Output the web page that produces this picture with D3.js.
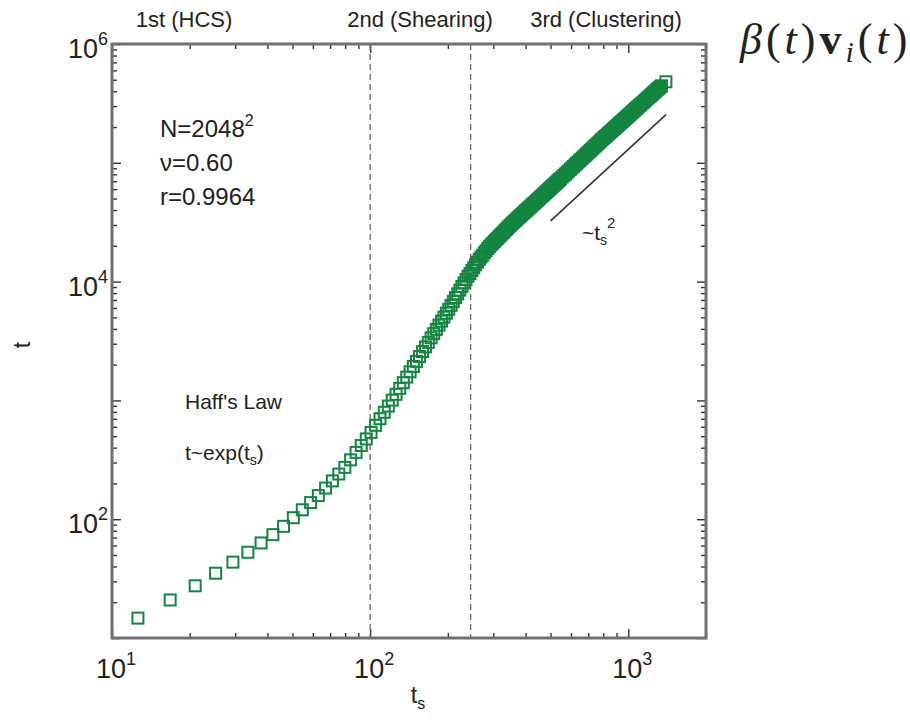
<!DOCTYPE html>
<html>
<head>
<meta charset="utf-8">
<script src="https://cdn.jsdelivr.net/npm/d3@7"></script>
<style>
  body { margin: 0; background: #fff; }
  svg { display: block; }
  text { font-family: "Liberation Sans", Arial, Helvetica, sans-serif; fill: #222; }
</style>
</head>
<body>
<svg id="chart" width="910" height="721"></svg>
<script>
// Scaled time t_s and real time t for the N=2048^2 run
const tS = [
  12.6, 16.8, 21.0, 25.2, 29.4, 33.6, 37.8, 42.0, 46.2, 50.4,
  54.6, 58.8, 63.0, 67.2, 71.4, 75.6, 79.8, 84.0, 88.2, 92.4,
  96.6, 100.8, 105.0, 109.2, 113.4, 117.6, 121.8, 126.0, 130.2, 134.4,
  138.6, 142.8, 147.0, 151.2, 155.4, 159.6, 163.8, 168.0, 172.2, 176.4,
  180.6, 184.8, 189.0, 193.2, 197.4, 201.6, 205.8, 210.0, 214.2, 218.4,
  222.6, 226.8, 231.0, 235.2, 239.4, 243.6, 247.8, 252.0, 256.2, 260.4,
  264.6, 268.8, 273.0, 277.2, 281.4, 285.6, 289.8, 294.0, 298.2, 302.4,
  306.6, 310.8, 315.0, 319.2, 323.4, 327.6, 331.8, 336.0, 340.2, 344.4,
  348.6, 352.8, 357.0, 361.2, 365.4, 369.6, 373.8, 378.0, 382.2, 386.4,
  390.6, 394.8, 399.0, 403.2, 407.4, 411.6, 415.8, 420.0, 424.2, 428.4,
  432.6, 436.8, 441.0, 445.2, 449.4, 453.6, 457.8, 462.0, 466.2, 470.4,
  474.6, 478.8, 483.0, 487.2, 491.4, 495.6, 499.8, 504.0, 508.2, 512.4,
  516.6, 520.8, 525.0, 529.2, 533.4, 537.6, 541.8, 546.0,
  554.4, 562.8, 571.2, 579.6, 588.0, 596.4, 604.8, 613.2, 621.6, 630.0,
  638.4, 646.8, 655.2, 663.6, 672.0, 680.4, 688.8, 697.2, 705.6, 714.0,
  722.4, 730.8, 739.2, 747.6, 756.0, 764.4, 772.8, 781.2, 789.6, 798.0,
  806.4, 814.8, 823.2, 831.6, 840.0, 848.4, 856.8, 865.2, 873.6, 882.0,
  890.4, 898.8, 907.2, 915.6, 924.0, 932.4, 940.8, 949.2, 957.6, 966.0,
  974.4, 982.8, 991.2, 999.6, 1008.0, 1016.4, 1024.8, 1033.2, 1041.6, 1050.0,
  1058.4, 1066.8, 1075.2, 1083.6, 1092.0,
  1104.6, 1117.2, 1129.8, 1142.4, 1155.0, 1167.6, 1180.2, 1192.8, 1205.4, 1218.0,
  1230.6, 1243.2, 1255.8, 1268.4, 1281.0, 1293.6, 1306.2, 1318.8, 1331.4, 1344.0,
  1398.6
];
const tReal = [
  14.7, 20.9, 27.5, 35.1, 43.5, 52.7, 63.1, 74.1, 87.1, 103,
  120, 138, 158, 183, 210, 240, 273, 316, 365, 417,
  474, 538, 617, 701, 794, 896, 1005, 1125, 1262, 1409,
  1570, 1742, 1930, 2130, 2340, 2575, 2820, 3080, 3360, 3650,
  3960, 4300, 4650, 5020, 5420, 5840, 6310, 6810, 7340, 7890,
  8480, 9100, 9750, 10400, 11100, 11700, 12400, 13100, 13900, 14600,
  15400, 16100, 16700, 17500, 18200, 19000, 19700, 20400, 21000, 21700,
  22400, 23000, 23800, 24400, 25200, 25900, 26700, 27400, 28200, 29000,
  29700, 30500, 31300, 32000, 32700, 33500, 34300, 35100, 35800, 36600,
  37400, 38300, 39100, 39900, 40700, 41600, 42400, 43300, 44200, 45100,
  45900, 46800, 47700, 48600, 49500, 50500, 51400, 52400, 53300, 54300,
  55300, 56300, 57300, 58300, 59300, 60300, 61300, 62400, 63400, 64500,
  65600, 66700, 67800, 68900, 70000, 71200, 72300, 73500,
  75900, 78200, 80600, 83000, 85500, 88100, 90600, 93300, 95900, 98600,
  101200, 104000, 106700, 109600, 112400, 115300, 118300, 121300, 124200, 127400,
  130300, 133400, 136800, 140000, 143200, 146600, 149600, 153100, 156700, 160000,
  163300, 166700, 169800, 173400, 177000, 180300, 183700, 187500, 191000, 194500,
  198200, 201800, 205600, 209400, 213300, 217300, 220800, 224900, 228600, 232800,
  236600, 240400, 244900, 248900, 252900, 257000, 261200, 265500, 269800, 274200,
  278600, 283100, 287100, 291700, 296500,
  303400, 309700, 317000, 323600, 330400, 337300, 345100, 352400, 359700, 366400,
  374100, 381900, 389900, 397200, 404600, 413000, 420700, 428500, 436500, 444600,
  480800
];

// Axis labels (powers of ten)
const xLabelValues = [10, 100, 1000];
const xLabelExps = ["1", "2", "3"];
const yLabelValues = [100, 1e4, 1e6];
const yLabelExps = ["2", "4", "6"];

// Regime boundaries and their names
const regimeBounds = [100, 245];
const regimeNames = ["1st (HCS)", "2nd (Shearing)", "3rd (Clustering)"];

// Guide line ~ t_s^2
const guideTs = [500, 1400];
const guideT = [32500, 254800];

const svg = d3.select("#chart");
const W = 910, H = 721;
svg.append("rect").attr("width", W).attr("height", H).attr("fill", "#fff");

const plot = { left: 112, right: 706, top: 44, bottom: 638 };
const x = d3.scaleLog().domain([10, 2000]).range([plot.left, plot.right]);
const y = d3.scaleLog().domain([10, 1e6]).range([plot.bottom, plot.top]);

// Minor / major tick positions
function logTicks(lo, hi) {
  const out = [];
  for (let d = lo; d < hi * 10; d *= 10)
    for (let k = 1; k < 10; k++) { const v = d * k; if (v >= lo && v <= hi) out.push(v); }
  return out;
}
const xMinor = logTicks(10, 2000).filter(v => !xLabelValues.includes(v));
const yMajor = [10, 100, 1000, 1e4, 1e5, 1e6];
const yMinor = logTicks(10, 1e6).filter(v => !yMajor.includes(v));

function styleTicks(g) {
  g.select(".domain").remove();
  g.selectAll(".tick line").attr("stroke", "#333").attr("stroke-width", 1.4);
  g.selectAll(".tick text").remove();
}
const axes = svg.append("g");
axes.append("g").attr("transform", `translate(0,${plot.bottom})`)
  .call(d3.axisBottom(x).tickValues(xMinor).tickSize(-5)).call(styleTicks);
axes.append("g").attr("transform", `translate(0,${plot.bottom})`)
  .call(d3.axisBottom(x).tickValues(xLabelValues).tickSize(-9)).call(styleTicks);
axes.append("g").attr("transform", `translate(0,${plot.top})`)
  .call(d3.axisTop(x).tickValues(xMinor).tickSize(-5)).call(styleTicks);
axes.append("g").attr("transform", `translate(0,${plot.top})`)
  .call(d3.axisTop(x).tickValues(xLabelValues).tickSize(-9)).call(styleTicks);
axes.append("g").attr("transform", `translate(${plot.left},0)`)
  .call(d3.axisLeft(y).tickValues(yMinor).tickSize(-5)).call(styleTicks);
axes.append("g").attr("transform", `translate(${plot.left},0)`)
  .call(d3.axisLeft(y).tickValues(yMajor).tickSize(-9)).call(styleTicks);
axes.append("g").attr("transform", `translate(${plot.right},0)`)
  .call(d3.axisRight(y).tickValues(yMinor).tickSize(-5)).call(styleTicks);
axes.append("g").attr("transform", `translate(${plot.right},0)`)
  .call(d3.axisRight(y).tickValues(yMajor).tickSize(-9)).call(styleTicks);

// Regime separators
svg.append("g").selectAll("line").data(regimeBounds).join("line")
  .attr("x1", d => x(d)).attr("x2", d => x(d))
  .attr("y1", plot.top).attr("y2", plot.bottom)
  .attr("stroke", "#666").attr("stroke-width", 1.3).attr("stroke-dasharray", "6,4");

// Data markers: open squares
const pts = d3.range(Math.min(tS.length, tReal.length)).map(i => ({ ts: tS[i], t: tReal[i] }));
const side = 11;
svg.append("g").selectAll("rect").data(pts).join("rect")
  .attr("x", d => x(d.ts) - side / 2).attr("y", d => y(d.t) - side / 2)
  .attr("width", side).attr("height", side)
  .attr("fill", "none").attr("stroke", "#138540").attr("stroke-width", 2);

// ~t_s^2 guide
svg.append("line")
  .attr("x1", x(guideTs[0])).attr("y1", y(guideT[0]))
  .attr("x2", x(guideTs[1])).attr("y2", y(guideT[1]))
  .attr("stroke", "#333").attr("stroke-width", 1.6);

// Frame
svg.append("rect").attr("x", plot.left).attr("y", plot.top)
  .attr("width", plot.right - plot.left).attr("height", plot.bottom - plot.top)
  .attr("fill", "none").attr("stroke", "#707070").attr("stroke-width", 3);

// Tick labels 10^n
const lab = svg.append("g").attr("font-size", 27);
xLabelValues.forEach((v, i) => {
  const t = lab.append("text").attr("x", x(v) + 4).attr("y", 678).attr("text-anchor", "middle");
  t.append("tspan").text("10");
  t.append("tspan").attr("dy", -13).attr("font-size", 18).text(xLabelExps[i]);
});
yLabelValues.forEach((v, i) => {
  const t = lab.append("text").attr("x", 108).attr("y", y(v) + 14).attr("text-anchor", "end");
  t.append("tspan").text("10");
  t.append("tspan").attr("dy", -13).attr("font-size", 18).text(yLabelExps[i]);
});

// Axis titles
const xt = svg.append("text").attr("x", 418).attr("y", 703).attr("font-size", 23).attr("text-anchor", "middle");
xt.append("tspan").text("t");
xt.append("tspan").attr("dy", 6).attr("font-size", 16).text("s");
svg.append("text").attr("transform", "translate(30,345) rotate(-90)")
  .attr("font-size", 23).attr("text-anchor", "middle").text("t");

// Regime names across the top
const regimeX = [184, 420, 606];
svg.append("g").selectAll("text").data(regimeNames).join("text")
  .attr("x", (d, i) => regimeX[i]).attr("y", 27).attr("text-anchor", "middle")
  .attr("font-size", 22).attr("fill", "#333").text(d => d);

// Run parameters
const info = svg.append("g").attr("font-size", 24);
const n1 = info.append("text").attr("x", 160).attr("y", 137);
n1.append("tspan").text("N=2048");
n1.append("tspan").attr("dy", -11).attr("font-size", 16).text("2");
info.append("text").attr("x", 160).attr("y", 171).text("\u03bd=0.60");
info.append("text").attr("x", 160).attr("y", 205).text("r=0.9964");

// Haff's law note
svg.append("text").attr("x", 185).attr("y", 409).attr("font-size", 21).text("Haff's Law");
const hx = svg.append("text").attr("x", 185).attr("y", 460).attr("font-size", 21);
hx.append("tspan").text("t~exp(t");
hx.append("tspan").attr("dy", 5).attr("font-size", 14).text("s");
hx.append("tspan").attr("dy", -5).text(")");

// Guide label ~t_s^2
const gl = svg.append("text").attr("x", 582).attr("y", 240).attr("font-size", 21);
gl.append("tspan").text("~t");
gl.append("tspan").attr("dy", 5).attr("font-size", 14).text("s");
gl.append("tspan").attr("dy", -17).attr("font-size", 15).text("2");

// Rescaled velocity expression
const eq = svg.append("text").attr("x", 740).attr("y", 54).attr("font-size", 44)
  .attr("letter-spacing", 4)
  .style("font-family", "'Liberation Serif', 'Times New Roman', serif").attr("fill", "#000");
eq.append("tspan").attr("font-style", "italic").text("\u03b2");
eq.append("tspan").text("(");
eq.append("tspan").attr("font-style", "italic").text("t");
eq.append("tspan").text(")");
eq.append("tspan").attr("font-weight", "bold").text("v");
eq.append("tspan").attr("font-style", "italic").attr("font-size", 30).attr("dy", 8).text("i");
eq.append("tspan").attr("dy", -8).text("(");
eq.append("tspan").attr("font-style", "italic").text("t");
eq.append("tspan").text(")");
</script>
</body>
</html>
